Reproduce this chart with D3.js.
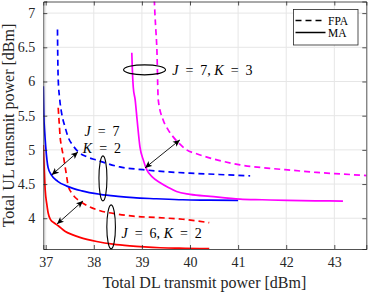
<!DOCTYPE html>
<html>
<head>
<meta charset="utf-8">
<script src="https://cdn.jsdelivr.net/npm/d3@7/dist/d3.min.js"></script>
<style>
  body { margin: 0; background: #fff; }
  svg { display: block; }
  svg text { font-family: "Liberation Serif", "DejaVu Serif", serif !important; }
</style>
</head>
<body>
<svg id="chart" width="368" height="292"></svg>
<script>
// DL power (x) and UL power (y) for each curve
var redMA_x = [36.95, 36.97, 36.99, 37.02, 37.05, 37.1, 37.18, 37.26, 37.4, 37.55, 37.71, 38.06, 38.4, 38.75, 39.05, 39.38, 39.9, 40.4]
var redMA_y = [5.07, 4.7, 4.41, 4.22, 4.08, 3.98, 3.93, 3.89, 3.81, 3.76, 3.72, 3.66, 3.62, 3.595, 3.58, 3.568, 3.56, 3.555]

var redFPA_x = [37.26, 37.28, 37.3, 37.33, 37.37, 37.42, 37.47, 37.55, 37.62, 37.71, 37.9, 38.13, 38.5, 38.82, 39.3, 39.85, 40.4]
var redFPA_y = [5.615, 5.4, 5.19, 5.04, 4.9, 4.68, 4.47, 4.36, 4.3, 4.25, 4.17, 4.11, 4.06, 4.03, 4.01, 3.985, 3.935]

var blueMA_x = [36.95, 36.96, 36.98, 37.0, 37.05, 37.12, 37.25, 37.44, 37.75, 38.13, 38.5, 38.82, 39.3, 39.85, 40.4, 41.0]
var blueMA_y = [5.93, 5.54, 5.25, 5.05, 4.74, 4.63, 4.54, 4.47, 4.4, 4.35, 4.32, 4.3, 4.285, 4.27, 4.265, 4.26]

var blueFPA_x = [37.245, 37.25, 37.26, 37.29, 37.33, 37.4, 37.47, 37.57, 37.68, 37.85, 38.06, 38.54, 39.02, 39.5, 40.0, 40.6, 41.25]
var blueFPA_y = [6.76, 6.4, 6.03, 5.75, 5.54, 5.34, 5.18, 5.06, 4.97, 4.9, 4.85, 4.75, 4.71, 4.68, 4.66, 4.64, 4.62]

var magMA_x = [38.79, 38.8, 38.82, 38.86, 38.9, 38.96, 39.03, 39.1, 39.22, 39.38, 39.55, 39.72, 40.0, 40.42, 41.04, 41.5, 42.02, 42.6, 43.18]
var magMA_y = [6.42, 6.2, 5.92, 5.73, 5.44, 5.04, 4.85, 4.71, 4.6, 4.52, 4.45, 4.39, 4.35, 4.32, 4.28, 4.27, 4.26, 4.255, 4.25]

var magFPA_x = [39.25, 39.27, 39.29, 39.31, 39.34, 39.44, 39.54, 39.65, 39.78, 39.93, 40.15, 40.42, 40.7, 41.04, 41.66, 42.15, 42.63, 43.2, 43.75]
var magFPA_y = [7.35, 7.0, 6.75, 6.5, 5.73, 5.44, 5.3, 5.19, 5.09, 5.0, 4.94, 4.88, 4.83, 4.78, 4.73, 4.7, 4.67, 4.645, 4.62]

var xTicks = [37, 38, 39, 40, 41, 42, 43]
var yTicks = [4, 4.5, 5, 5.5, 6, 6.5, 7]
var legendLabels = ['FPA', 'MA']

var svg = d3.select('#chart')
var plotLeft = 43.3, plotRight = 366.3, plotTop = 1.5, plotBottom = 249

var x = d3.scaleLinear().domain([36.95, 43.665]).range([plotLeft, plotRight])
var y = d3.scaleLinear().domain([3.55, 7.17]).range([plotBottom, plotTop])

svg.append('rect').attr('width', 368).attr('height', 292).attr('fill', '#fff')

var defs = svg.append('defs')
defs.append('clipPath').attr('id', 'clip')
	.append('rect').attr('x', plotLeft).attr('y', plotTop)
	.attr('width', plotRight - plotLeft).attr('height', plotBottom - plotTop)

// grid
var grid = svg.append('g')
grid.selectAll('.gx').data(xTicks).join('line').attr('class', 'gx')
	.attr('x1', d => x(d)).attr('x2', d => x(d)).attr('y1', plotTop).attr('y2', plotBottom)
	.attr('stroke', '#e6e6e6').attr('stroke-width', 1)
grid.selectAll('.gy').data(yTicks).join('line').attr('class', 'gy')
	.attr('y1', d => y(d)).attr('y2', d => y(d)).attr('x1', plotLeft).attr('x2', plotRight)
	.attr('stroke', '#e6e6e6').attr('stroke-width', 1)

// curves
var series = [
	{ xs: redMA_x, ys: redMA_y, colour: '#ff0000', dash: null },
	{ xs: redFPA_x, ys: redFPA_y, colour: '#ff0000', dash: '6,4' },
	{ xs: blueMA_x, ys: blueMA_y, colour: '#0000ff', dash: null },
	{ xs: blueFPA_x, ys: blueFPA_y, colour: '#0000ff', dash: '6,4' },
	{ xs: magMA_x, ys: magMA_y, colour: '#ff00ff', dash: null },
	{ xs: magFPA_x, ys: magFPA_y, colour: '#ff00ff', dash: '6,4' }
]

var line = d3.line().x(d => x(d[0])).y(d => y(d[1])).curve(d3.curveMonotoneX)

svg.append('g').attr('clip-path', 'url(#clip)')
	.selectAll('path').data(series).join('path')
	.attr('d', d => line(d.xs.map((v, i) => [v, d.ys[i]])))
	.attr('fill', 'none')
	.attr('stroke', d => d.colour)
	.attr('stroke-width', 1.7)
	.attr('stroke-dasharray', d => d.dash)

// axes (box with inward ticks)
var axisColour = '#262626'
var xAxis = svg.append('g').attr('transform', 'translate(0,' + plotBottom + ')')
	.call(d3.axisBottom(x).tickValues(xTicks).tickSize(-4).tickPadding(8).tickFormat(d3.format('d')))
var xTop = svg.append('g').attr('transform', 'translate(0,' + plotTop + ')')
	.call(d3.axisTop(x).tickValues(xTicks).tickSize(-4).tickFormat(''))
var yAxis = svg.append('g').attr('transform', 'translate(' + plotLeft + ',0)')
	.call(d3.axisLeft(y).tickValues(yTicks).tickSize(-4).tickPadding(8).tickFormat(d3.format('')))
var yRight = svg.append('g').attr('transform', 'translate(' + plotRight + ',0)')
	.call(d3.axisRight(y).tickValues(yTicks).tickSize(-4).tickFormat(''))

;[xAxis, xTop, yAxis, yRight].forEach(function (g) {
	g.attr('font-size', 14)
	g.select('.domain').attr('stroke', axisColour).attr('stroke-width', 0.8)
	g.selectAll('.tick line').attr('stroke', axisColour).attr('stroke-width', 0.8)
	g.selectAll('.tick text').attr('fill', axisColour)
})

// axis labels
svg.append('text').attr('x', 204.5).attr('y', 288).attr('text-anchor', 'middle')
	.attr('font-size', 16).attr('fill', axisColour).text('Total DL transmit power [dBm]')
svg.append('text').attr('transform', 'translate(14,125.5) rotate(-90)').attr('text-anchor', 'middle')
	.attr('font-size', 16).attr('fill', axisColour).text('Total UL transmit power [dBm]')

// annotations
var ann = svg.append('g')
function ellipse(cx, cy, rx, ry) {
	ann.append('ellipse').attr('cx', x(cx)).attr('cy', y(cy)).attr('rx', rx).attr('ry', ry)
		.attr('fill', 'none').attr('stroke', '#000').attr('stroke-width', 1.1)
}
ellipse(39.055, 6.17, 21, 5)
ellipse(38.19, 4.583, 4, 22.5)
ellipse(38.36, 3.873, 4.3, 22)

defs.append('marker').attr('id', 'ah').attr('viewBox', '0 0 10 10').attr('refX', 10).attr('refY', 5)
	.attr('markerWidth', 7).attr('markerHeight', 7).attr('markerUnits', 'userSpaceOnUse').attr('orient', 'auto-start-reverse')
	.append('path').attr('d', 'M0,0.5 L10,5 L0,9.5 L2.5,5 Z').attr('fill', '#000')

function arrow(x1, y1, x2, y2) {
	ann.append('line').attr('x1', x(x1)).attr('y1', y(y1)).attr('x2', x(x2)).attr('y2', y(y2))
		.attr('stroke', '#000').attr('stroke-width', 0.9)
		.attr('marker-start', 'url(#ah)').attr('marker-end', 'url(#ah)')
}
arrow(37.235, 3.915, 37.775, 4.253)
arrow(37.125, 4.634, 37.67, 4.97)
arrow(39.065, 4.736, 39.79, 5.146)

// LaTeX-like labels: italic symbols, wider spacing round "="
function mathLabel(px, py, anchor, parts) {
	var t = ann.append('text').attr('x', x(px)).attr('y', y(py)).attr('text-anchor', anchor)
		.attr('font-size', 14).attr('fill', '#000').attr('xml:space', 'preserve')
		.style('white-space', 'pre')
	parts.forEach(function (p) {
		t.append('tspan').attr('font-style', p[1] ? 'italic' : 'normal').text(p[0])
	})
}
mathLabel(39.63, 6.10, 'start', [['J', 1], ['  =  7, ', 0], ['K', 1], ['  =  3', 0]])
mathLabel(38.17, 5.205, 'middle', [['J', 1], ['  =  7', 0]])
mathLabel(38.17, 4.956, 'middle', [['K', 1], ['  =  2', 0]])
mathLabel(38.576, 3.71, 'start', [['J', 1], ['  =  6, ', 0], ['K', 1], ['  =  2', 0]])

// legend
var lg = svg.append('g').attr('transform', 'translate(293.5,9.5)')
lg.append('rect').attr('width', 64.5).attr('height', 35.5).attr('fill', '#fff')
	.attr('stroke', axisColour).attr('stroke-width', 0.8)
lg.selectAll('.li').data(legendLabels).join('g').attr('class', 'li')
	.attr('transform', (d, i) => 'translate(0,' + (11 + i * 12) + ')')
	.each(function (d, i) {
		var g = d3.select(this)
		g.append('line').attr('x1', 2).attr('x2', 32).attr('stroke', '#000').attr('stroke-width', 1.5)
			.attr('stroke-dasharray', i === 0 ? '6,4' : null)
		g.append('text').attr('x', 34.5).attr('y', 4).attr('font-size', 11.5).attr('fill', '#000').text(d)
	})
</script>
</body>
</html>
